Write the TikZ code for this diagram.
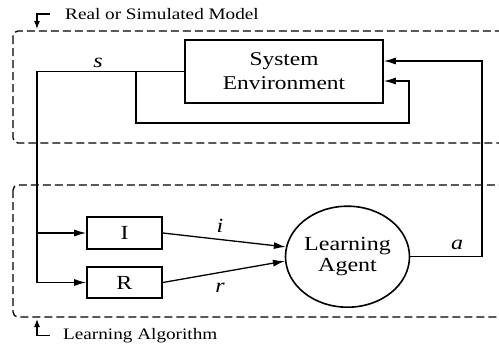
\documentclass[tikz,border=0pt]{standalone}
\usepackage{fontspec}
\setmainfont[FakeStretch=1.2]{Liberation Serif}
\usetikzlibrary{arrows.meta,shapes.geometric}
\begin{document}
\begin{tikzpicture}[x=1pt,y=-1pt,
  conn/.style={line width=1.3pt},
  arr/.style={conn,-{Latex[length=12pt,width=7pt]}},
  smallarr/.style={line width=1.1pt,-{Latex[length=8pt,width=6pt]}},
  region/.style={draw,dash pattern=on 8pt off 4pt,line width=1.3pt,rounded corners=5pt},
  block/.style={draw,line width=1.6pt,inner sep=0pt,align=center},
  lbl/.style={inner sep=0pt,font=\fontsize{16}{19}\selectfont},
  var/.style={inner sep=0pt,font=\fontsize{20}{24}\selectfont\itshape}]
\useasboundingbox (0,0) rectangle (499,346);
\clip (0,0) rectangle (499,346);
\fill[white] (0,0) rectangle (499,346);
% regions
\draw[region] (13,31) rectangle (530,143);
\draw[region] (13,185) rectangle (530,317);
% blocks
\node[block,minimum width=198pt,minimum height=63pt,font=\fontsize{19.5}{24}\selectfont] (env) at (284,71.5) {System\\Environment};
\node[block,minimum width=75pt,minimum height=32pt,font=\fontsize{20}{24}\selectfont] (I) at (124.5,233) {I};
\node[block,minimum width=75pt,minimum height=31pt,font=\fontsize{20}{24}\selectfont] (R) at (124.5,282.5) {R};
\node[draw,ellipse,line width=1.6pt,minimum width=124pt,minimum height=101pt,inner sep=0pt,align=center,font=\fontsize{20}{21}\selectfont] (agent) at (347.5,256.7) {Learning\\Agent};
% variable labels
\node[var] (s) at (98,63) {s};
\node[var] (i) at (220,226) {i};
\node[var] (r) at (220,288) {r};
\node[var] (a) at (457,245) {a};
% connectors
\coordinate (sL) at (37,71.5);
\draw[arr] (env.west) -- (sL) |- (R.west);
\draw[arr] (sL |- I.west) -- (I.west);
\coordinate (fb) at (136,71.5);
\coordinate (fbB) at (409,123);
\draw[arr] (fb) |- (fbB) |- ([yshift=-9.5pt]env.east);
\coordinate (aR) at (482,256.7);
\draw[arr] (agent.east) -- (aR) |- ([yshift=10.5pt]env.east);
\draw[arr] (I.east) -- (agent.171);
\draw[arr] (R.east) -- (agent.184);
% region labels
\node[lbl,anchor=base west] (top) at (65,19.5) {Real or Simulated Model};
\coordinate (topTip) at (37,29);
\draw[smallarr] ([xshift=-15pt]top.west) -| (topTip);
\node[lbl,anchor=base west] (bot) at (63,339.5) {Learning Algorithm};
\coordinate (botTip) at (37,319);
\draw[smallarr] ([xshift=-13pt]bot.west) -| (botTip);
\end{tikzpicture}
\end{document}
